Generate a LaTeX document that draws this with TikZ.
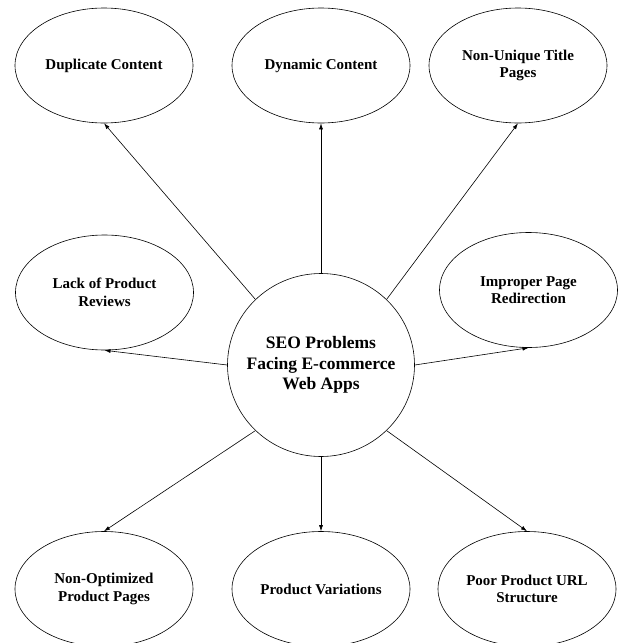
\documentclass[tikz,border=0pt]{standalone}
\usepackage{fontspec}
\setmainfont{Liberation Serif}
\usetikzlibrary{shapes.geometric,arrows.meta}
\tikzset{
    problem/.style={ellipse, draw, line width=0.6pt, minimum width=178pt, minimum height=115pt, inner sep=0pt, align=center, font=\fontsize{15}{17.5}\selectfont\bfseries},
    core/.style={ellipse, draw, line width=0.6pt, minimum width=187pt, minimum height=183pt, inner sep=0pt, inner xsep=-30pt, align=center, font=\fontsize{17.5}{20.7}\selectfont\bfseries},
    link/.style={-{Latex[length=6pt,width=4pt]}, line width=0.6pt}
}
\begin{document}
\begin{tikzpicture}[x=1pt,y=-1pt]
\useasboundingbox (0,0) rectangle (618,643);
% Centre
\node[core] (seo) at (321,365) {SEO Problems\\Facing E-commerce\\Web Apps};

% Top row
\node[problem] (dup) at (104,65.5) {Duplicate Content};
\node[problem] (dyn) at (321,65.5) {Dynamic Content};
\node[problem] (title) at (518,65.5) {Non-Unique Title\\Pages};

% Middle row
\node[problem] (review) at (104.5,292.5) {Lack of Product\\Reviews};
\node[problem] (redir) at (528.5,290) {Improper Page\\Redirection};

% Bottom row
\node[problem] (nonopt) at (104,589) {Non-Optimized\\Product Pages};
\node[problem] (variant) at (321,589) {Product Variations};
\node[problem] (url) at (527,589) {Poor Product URL\\Structure};

% Arrows
\foreach \a/\t in {135/dup.south, 90/dyn.south, 45/title.south, 180/review.south, 0/redir.south, 225/nonopt.north, 270/variant.north, 315/url.north} {
    \draw[link] (seo.\a) -- (\t);
}
\end{tikzpicture}
\end{document}
